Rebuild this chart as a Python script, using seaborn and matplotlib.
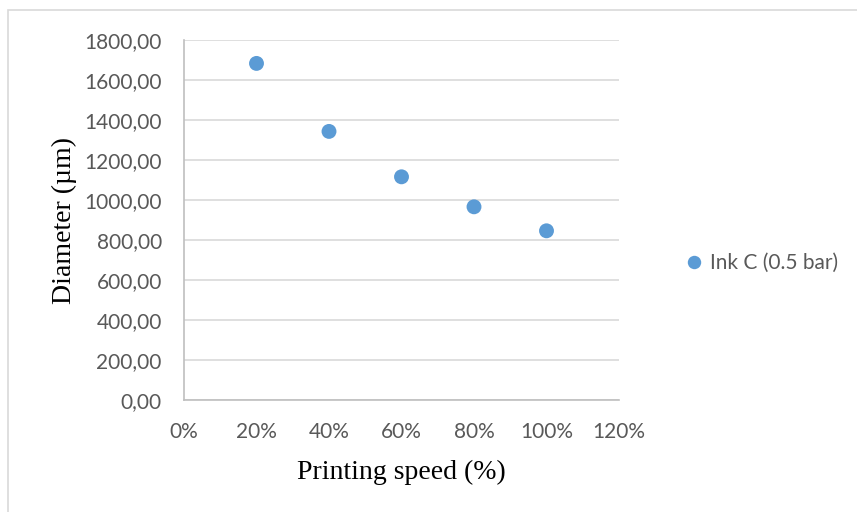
import numpy as np
import pandas as pd
import matplotlib.pyplot as plt
import seaborn as sns
from matplotlib.patches import Rectangle
from matplotlib.ticker import FuncFormatter, MultipleLocator

speed = [0.2, 0.4, 0.6, 0.8, 1.0]
diameter = [1683, 1343, 1116, 966, 846]
series_name = 'Ink C (0.5 bar)'

df = pd.DataFrame({'speed': speed, 'diameter': diameter, 'series': series_name})

sns.set_style('white')
plt.rcParams['font.family'] = ['Lato', 'DejaVu Sans']

fig = plt.figure(figsize=(8.57, 5.12), dpi=100)
ax = fig.add_axes([0.2147, 0.21875, 0.5076, 0.7031])

sns.scatterplot(data=df, x='speed', y='diameter', hue='series', palette=['#5B9BD5'],
                s=115, edgecolor='none', ax=ax, legend=True, zorder=3)

ax.set_xlim(0, 1.2)
ax.set_ylim(0, 1800)
ax.xaxis.set_major_locator(MultipleLocator(0.2))
ax.yaxis.set_major_locator(MultipleLocator(200))
ax.xaxis.set_major_formatter(FuncFormatter(lambda v, p: f'{v*100:.0f}%'))
ax.yaxis.set_major_formatter(FuncFormatter(lambda v, p: f'{v:.2f}'.replace('.', ',')))
ax.grid(axis='y', color='#D9D9D9', linewidth=1.2)
ax.set_axisbelow(True)
for side in ['top', 'right']:
    ax.spines[side].set_visible(False)
for side in ['left', 'bottom']:
    ax.spines[side].set_color('#BFBFBF')
    ax.spines[side].set_linewidth(1.2)
ax.tick_params(axis='both', length=0, labelsize=15, labelcolor='#595959')
ax.tick_params(axis='y', pad=16)
ax.tick_params(axis='x', pad=16)

ax.set_xlabel('Printing speed (%)', fontfamily='Liberation Serif', fontsize=20, color='black', labelpad=13)
ax.set_ylabel('Diameter (µm)', fontfamily='Liberation Serif', fontsize=20, color='black', labelpad=5)

ax.legend(loc='center left', bbox_to_anchor=(0.783, 0.486), bbox_transform=fig.transFigure,
          frameon=False, fontsize=15, labelcolor='#595959', markerscale=0.9,
          handletextpad=0.15, borderpad=0, handlelength=1.2)

fig.patches.append(Rectangle((8 / 857, -0.1), 1.2, 1 - 10 / 512 + 0.1, transform=fig.transFigure,
                             fill=False, edgecolor='#D9D9D9', linewidth=1.2))

plt.savefig('out.png', dpi=100)
